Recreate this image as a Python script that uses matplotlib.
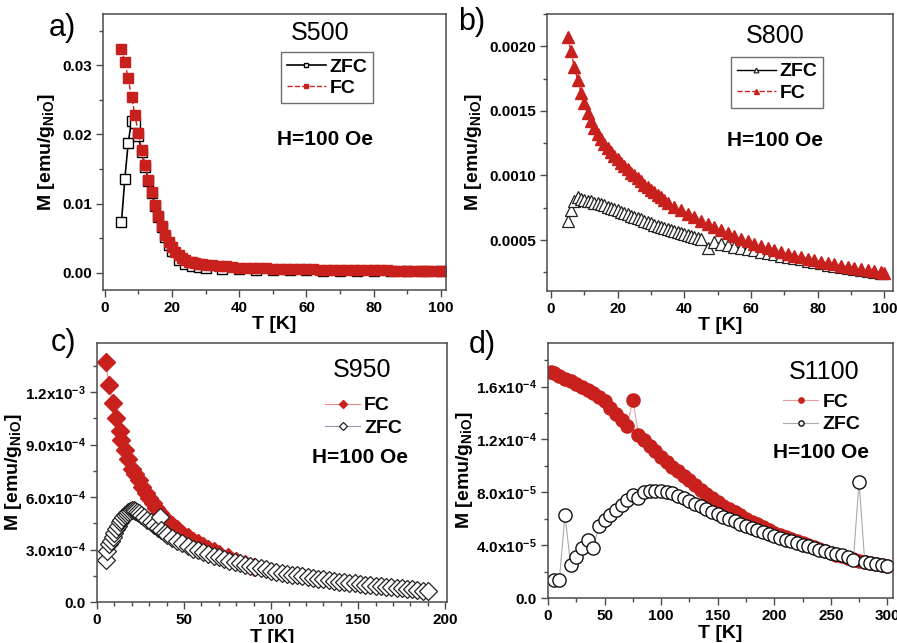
import matplotlib
matplotlib.use('Agg')
import matplotlib.pyplot as plt
from matplotlib.ticker import MultipleLocator, FixedLocator, FixedFormatter

plt.rcParams['font.family'] = ['Liberation Sans', 'DejaVu Sans']
plt.rcParams['mathtext.fontset'] = 'custom'
plt.rcParams['mathtext.rm'] = 'Liberation Sans'
plt.rcParams['mathtext.bf'] = 'Liberation Sans:bold'
plt.rcParams['mathtext.it'] = 'Liberation Sans:italic'
plt.rcParams['mathtext.default'] = 'bf'

RED = '#c8201d'
EDGE = '#4a4a4a'

# ---- a) S500 ----
a_zfc_T = [5, 6, 7, 8, 9, 10, 11, 12, 13, 14, 15, 16, 17, 18, 19, 20, 22, 24, 26, 28,
           30, 35, 40, 45, 50, 55, 60, 65, 70, 75, 80, 85, 90, 95, 100]
a_zfc_M = [0.0074, 0.0136, 0.0188, 0.0220, 0.0216, 0.0197, 0.0175, 0.0153, 0.0133, 0.0115,
           0.0097, 0.0080, 0.0066, 0.0052, 0.0040, 0.0031, 0.0019, 0.0013, 0.0010, 0.0008,
           0.0007, 0.0006, 0.0005, 0.00045, 0.0004, 0.0004, 0.00035, 0.0003, 0.0003, 0.0003,
           0.00025, 0.00025, 0.00025, 0.0002, 0.0002]
a_fc_T = [5, 6, 7, 8, 9, 10, 11, 12, 13, 14, 15, 16, 17, 18, 19, 20, 21, 22, 23, 24,
          25, 26, 27, 28, 29, 30, 32, 34, 36, 38, 40, 42, 44, 46, 48, 50, 52, 54, 56, 58,
          60, 62, 64, 66, 68, 70, 72, 74, 76, 78, 80, 82, 84, 86, 88, 90, 92, 94, 96, 98, 100]
a_fc_M = [0.0324, 0.0304, 0.0281, 0.0254, 0.0228, 0.0202, 0.0178, 0.0155, 0.0134, 0.0116,
          0.0098, 0.0082, 0.0068, 0.0055, 0.0045, 0.0037, 0.0030, 0.0025, 0.0021, 0.0018,
          0.0016, 0.0015, 0.0014, 0.0013, 0.0012, 0.00115, 0.00105, 0.00095, 0.0009, 0.0008,
          0.00075, 0.0007, 0.0007, 0.00065, 0.00065, 0.0006, 0.0006, 0.00055, 0.00055, 0.0005,
          0.0005, 0.0005, 0.00045, 0.00045, 0.00045, 0.0004, 0.0004, 0.0004, 0.0004, 0.00035,
          0.00035, 0.00035, 0.00035, 0.0003, 0.0003, 0.0003, 0.0003, 0.0003, 0.0003, 0.00025, 0.00025]

# ---- b) S800 ----
b_zfc_T = [5, 6, 7, 8, 9, 10, 11, 12, 13, 14, 15, 16, 17, 18, 19, 20, 21, 22, 23, 24,
           25, 26, 27, 28, 29, 30, 31, 32, 33, 34, 35, 36, 37, 38, 39, 40, 41, 42, 43, 44,
           45, 47, 49, 51, 53, 55, 57, 59, 61, 63, 65, 67, 69, 71, 73, 75,
           77, 79, 81, 83, 85, 87, 89, 91, 93, 95, 97, 99]
b_zfc_M = [0.00065, 0.00073, 0.00080, 0.00083, 0.00082, 0.00081, 0.00080, 0.00080, 0.00079, 0.000785,
           0.00078, 0.00077, 0.00076, 0.00075, 0.00074, 0.00073, 0.00072, 0.00071, 0.00070, 0.00069,
           0.00068, 0.00067, 0.00066, 0.00065, 0.00064, 0.00063, 0.00062, 0.00061, 0.00060, 0.000592,
           0.000585, 0.000577, 0.00057, 0.000562, 0.000555, 0.000547, 0.00054, 0.000532, 0.000525, 0.000517,
           0.00051, 0.00044, 0.000485, 0.00047, 0.00046, 0.00045,
           0.00044, 0.00043, 0.00042, 0.00041, 0.00040, 0.00039, 0.00038, 0.00037, 0.00036, 0.00035,
           0.00034, 0.00033, 0.00032, 0.00031, 0.00030, 0.000292, 0.000284, 0.000276, 0.000268, 0.00026,
           0.000253, 0.000246]
b_fc_T = [5, 6, 7, 8, 9, 10, 11, 12, 13, 14, 15, 16, 17, 18, 19, 20, 21, 22, 23, 24,
          25, 26, 27, 28, 29, 30, 31, 32, 33, 34, 35, 37, 39, 41, 43, 45, 47, 49, 51, 53,
          55, 57, 59, 61, 63, 65, 67, 69, 71, 73,
          75, 77, 79, 81, 83, 85, 87, 89, 91, 93, 95, 97, 99, 100]
b_fc_M = [0.00207, 0.00196, 0.00184, 0.00174, 0.00164, 0.00156, 0.00148, 0.00142, 0.00137, 0.00132,
          0.00128, 0.00124, 0.00121, 0.00118, 0.00115, 0.00113, 0.00110, 0.00107, 0.00105, 0.00102,
          0.00100, 0.00098, 0.00096, 0.00093, 0.00091, 0.00089, 0.00087, 0.00085, 0.00083, 0.00081,
          0.00079, 0.00076, 0.00073, 0.00070, 0.000675, 0.00065, 0.000625, 0.0006, 0.000575, 0.000552,
          0.00053, 0.00051, 0.00049, 0.00047, 0.000455, 0.00044, 0.000425, 0.00041, 0.000395, 0.00038,
          0.000368, 0.000356, 0.000344, 0.000333, 0.000322, 0.000312, 0.000302, 0.000293, 0.000284, 0.000276,
          0.000268, 0.00026, 0.000252, 0.000248]

# ---- c) S950 ----
c_fc_T = [5, 7, 9, 11, 13, 14, 16, 18, 20, 22, 24, 26, 28, 30, 32, 34, 36, 38, 40, 43,
          46, 49, 52, 55, 58, 61, 64, 67, 70, 75, 80, 85, 90]
c_fc_M = [1.37e-3, 1.24e-3, 1.14e-3, 1.05e-3, 0.975e-3, 0.925e-3, 0.87e-3, 0.82e-3, 0.76e-3, 0.73e-3,
          0.695e-3, 0.66e-3, 0.625e-3, 0.595e-3, 0.565e-3, 0.535e-3, 0.51e-3, 0.485e-3, 0.465e-3, 0.44e-3,
          0.415e-3, 0.39e-3, 0.37e-3, 0.35e-3, 0.335e-3, 0.32e-3, 0.305e-3, 0.29e-3, 0.275e-3, 0.255e-3,
          0.235e-3, 0.215e-3, 0.2e-3]
c_zfc_T = [5, 6, 7, 8, 9, 10, 11, 12, 13, 14, 15, 16, 17, 18, 19, 20, 21, 22, 23, 24,
           25, 27, 29, 31, 33, 35, 36, 37, 39, 40, 43, 46, 49, 52, 55, 58, 61, 64, 67, 70,
           73, 76, 79, 82, 85, 88, 91, 94, 97, 100, 103, 106, 109, 112, 115, 118, 121, 124, 127, 130,
           133, 136, 139, 142, 145, 148, 151, 154, 157, 160, 163, 166, 169, 172, 175, 178, 181, 184, 187, 190]
c_zfc_M = [0.24e-3, 0.29e-3, 0.33e-3, 0.35e-3, 0.37e-3, 0.395e-3, 0.415e-3, 0.435e-3, 0.455e-3, 0.47e-3,
           0.485e-3, 0.495e-3, 0.505e-3, 0.515e-3, 0.52e-3, 0.525e-3, 0.525e-3, 0.52e-3, 0.515e-3, 0.51e-3,
           0.50e-3, 0.485e-3, 0.47e-3, 0.455e-3, 0.44e-3, 0.425e-3, 0.485e-3, 0.41e-3, 0.395e-3, 0.385e-3,
           0.365e-3, 0.35e-3, 0.335e-3, 0.32e-3, 0.305e-3, 0.295e-3, 0.285e-3, 0.275e-3, 0.265e-3, 0.255e-3,
           0.245e-3, 0.237e-3, 0.229e-3, 0.221e-3, 0.213e-3, 0.206e-3, 0.199e-3, 0.192e-3, 0.186e-3, 0.18e-3,
           0.174e-3, 0.168e-3, 0.162e-3, 0.157e-3, 0.152e-3, 0.147e-3, 0.142e-3, 0.137e-3, 0.133e-3, 0.129e-3,
           0.125e-3, 0.121e-3, 0.117e-3, 0.113e-3, 0.109e-3, 0.106e-3, 0.103e-3, 0.1e-3, 0.097e-3, 0.094e-3,
           0.091e-3, 0.088e-3, 0.085e-3, 0.082e-3, 0.079e-3, 0.076e-3, 0.073e-3, 0.069e-3, 0.065e-3, 0.061e-3]

# ---- d) S1100 ----
d_fc_T = [3, 5, 10, 15, 20, 25, 30, 35, 40, 45, 50, 55, 60, 65, 70, 75, 80, 85, 90, 95,
          100, 105, 110, 115, 120, 125, 130, 135, 140, 145, 150, 155, 160, 165, 170, 175, 180, 185, 190, 195,
          200, 205, 210, 215, 220, 225, 230, 235, 240, 245, 250, 255, 260, 265, 270, 275, 280, 285, 290, 295, 300]
d_fc_M = [1.71e-4, 1.70e-4, 1.68e-4, 1.66e-4, 1.64e-4, 1.62e-4, 1.60e-4, 1.575e-4, 1.55e-4, 1.52e-4,
          1.49e-4, 1.44e-4, 1.39e-4, 1.345e-4, 1.30e-4, 1.50e-4, 1.235e-4, 1.195e-4, 1.15e-4, 1.11e-4,
          1.07e-4, 1.03e-4, 0.995e-4, 0.96e-4, 0.925e-4, 0.89e-4, 0.855e-4, 0.82e-4, 0.79e-4, 0.76e-4,
          0.73e-4, 0.70e-4, 0.675e-4, 0.65e-4, 0.625e-4, 0.60e-4, 0.578e-4, 0.557e-4, 0.535e-4, 0.515e-4,
          0.495e-4, 0.475e-4, 0.46e-4, 0.445e-4, 0.43e-4, 0.415e-4, 0.40e-4, 0.385e-4, 0.37e-4, 0.355e-4,
          0.34e-4, 0.328e-4, 0.316e-4, 0.304e-4, 0.292e-4, 0.28e-4, 0.27e-4, 0.262e-4, 0.254e-4, 0.247e-4, 0.24e-4]
d_zfc_T = [5, 10, 15, 20, 25, 30, 35, 40, 45, 50, 55, 60, 65, 70, 75, 80, 85, 90, 95, 100,
           105, 110, 115, 120, 125, 130, 135, 140, 145, 150, 155, 160, 165, 170, 175, 180, 185, 190, 195, 200,
           205, 210, 215, 220, 225, 230, 235, 240, 245, 250, 255, 260, 265, 270, 275, 280, 285, 290, 295, 300]
d_zfc_M = [1.39e-5, 1.34e-5, 6.28e-5, 2.53e-5, 3.11e-5, 3.75e-5, 4.38e-5, 3.75e-5, 5.47e-5, 5.90e-5,
           6.28e-5, 6.66e-5, 7.04e-5, 7.42e-5, 7.80e-5, 7.54e-5, 8.0e-5, 8.13e-5, 8.13e-5, 8.13e-5,
           8.05e-5, 7.92e-5, 7.75e-5, 7.54e-5, 7.34e-5, 7.14e-5, 6.94e-5, 6.73e-5, 6.53e-5, 6.33e-5,
           6.15e-5, 5.97e-5, 5.80e-5, 5.62e-5, 5.44e-5, 5.27e-5, 5.11e-5, 4.96e-5, 4.81e-5, 4.68e-5,
           4.53e-5, 4.41e-5, 4.28e-5, 4.15e-5, 4.03e-5, 3.90e-5, 3.77e-5, 3.67e-5, 3.57e-5, 3.44e-5,
           3.34e-5, 3.24e-5, 3.14e-5, 2.91e-5, 8.81e-5, 2.73e-5, 2.66e-5, 2.58e-5, 2.51e-5, 2.43e-5]

c_yticks = [0.0, 3.0e-4, 6.0e-4, 9.0e-4, 1.2e-3]
c_ylabels = ['0.0', r'3.0x10$^{-4}$', r'6.0x10$^{-4}$', r'9.0x10$^{-4}$', r'1.2x10$^{-3}$']
d_yticks = [0.0, 4.0e-5, 8.0e-5, 1.2e-4, 1.6e-4]
d_ylabels = ['0.0', r'4.0x10$^{-5}$', r'8.0x10$^{-5}$', r'1.2x10$^{-4}$', r'1.6x10$^{-4}$']

W, H = 897, 643
fig = plt.figure(figsize=(W / 100, H / 100), dpi=100)


def box(l, t, r, b):
    return [l / W, 1 - b / H, (r - l) / W, (b - t) / H]


def style(ax, xmaj, xmin, ymaj, ymin, ylpad=4):
    for s in ax.spines.values():
        s.set_color(EDGE)
        s.set_linewidth(1.1)
    ax.tick_params(which='both', direction='out', top=False, right=False,
                   color=EDGE, width=1.0, labelsize=11, pad=3)
    ax.tick_params(which='major', length=5)
    ax.tick_params(which='minor', length=3)
    ax.xaxis.set_major_locator(MultipleLocator(xmaj))
    ax.xaxis.set_minor_locator(MultipleLocator(xmin))
    if ymaj is not None:
        ax.yaxis.set_major_locator(MultipleLocator(ymaj))
    ax.yaxis.set_minor_locator(MultipleLocator(ymin))
    for lab in ax.get_xticklabels() + ax.get_yticklabels():
        lab.set_fontweight('bold')
    ax.set_xlabel('T [K]', fontsize=14, fontweight='bold', labelpad=1)
    ax.set_ylabel(r'M [emu/g$_{NiO}$]', fontsize=14, fontweight='bold', labelpad=ylpad)


def annotate(ax, name, nx, ny, hx, hy):
    ax.text(nx, ny, name, transform=ax.transAxes, fontsize=18, ha='center', va='center')
    ax.text(hx, hy, 'H=100 Oe', transform=ax.transAxes, fontsize=15, fontweight='bold',
            ha='center', va='center')


# a)
ax = fig.add_axes(box(103, 14, 446, 290))
ax.plot(a_zfc_T, a_zfc_M, color='black', lw=1.2, marker='s', ms=7, mfc='white',
        mec='black', mew=1.0, label='ZFC')
ax.plot(a_fc_T, a_fc_M, color=RED, lw=1.0, ls='--', marker='s', ms=7.5, mfc=RED,
        mec=RED, label='FC')
ax.set_xlim(-0.5, 101.5)
ax.set_ylim(-0.0025, 0.0374)
ax.yaxis.set_major_formatter(plt.FuncFormatter(lambda v, p: '%.2f' % v))
style(ax, 20, 10, 0.01, 0.005)
annotate(ax, 'S500', 0.633, 0.931, 0.647, 0.547)
leg = ax.legend(loc='upper left', bbox_to_anchor=(0.519, 0.862), borderaxespad=0,
                prop={'weight': 'bold', 'size': 14}, frameon=True, fancybox=False,
                handlelength=2.0, handletextpad=0.2, markerscale=0.45, borderpad=0.3,
                labelspacing=0.2)
leg.get_frame().set_edgecolor(EDGE)
leg.get_frame().set_linewidth(1.0)

# b)
ax = fig.add_axes(box(547, 14, 893, 291))
ax.plot(b_zfc_T, b_zfc_M, color='black', lw=1.0, marker='^', ms=8.5, mfc='white',
        mec='#222222', mew=0.9, label='ZFC')
ax.plot(b_fc_T, b_fc_M, color=RED, lw=1.0, ls='--', marker='^', ms=9, mfc=RED,
        mec=RED, label='FC')
ax.set_xlim(-1.2, 102.6)
ax.set_ylim(0.000106, 0.00225)
ax.yaxis.set_major_formatter(plt.FuncFormatter(lambda v, p: '%.4f' % v))
style(ax, 20, 10, 0.0005, 0.00025)
annotate(ax, 'S800', 0.659, 0.921, 0.659, 0.545)
leg = ax.legend(loc='upper left', bbox_to_anchor=(0.532, 0.845), borderaxespad=0,
                prop={'weight': 'bold', 'size': 14}, frameon=True, fancybox=False,
                handlelength=2.0, handletextpad=0.2, markerscale=0.4, borderpad=0.3,
                labelspacing=0.2)
leg.get_frame().set_edgecolor(EDGE)
leg.get_frame().set_linewidth(1.0)

# c)
ax = fig.add_axes(box(97, 343, 447, 602))
ax.plot(c_fc_T, c_fc_M, color='#e88a88', lw=0.8, marker='D', ms=9, mfc=RED,
        mec=RED, label='FC')
ax.plot(c_zfc_T, c_zfc_M, color='#9a98b8', lw=0.8, marker='D', ms=9, mfc='white',
        mec='#222222', mew=0.9, label='ZFC')
ax.set_xlim(0, 201)
ax.set_ylim(0, 1.48e-3)
style(ax, 50, 10, None, 1.5e-4, ylpad=1)
ax.yaxis.set_major_locator(FixedLocator(c_yticks))
ax.yaxis.set_major_formatter(FixedFormatter(c_ylabels))
annotate(ax, 'S950', 0.757, 0.896, 0.751, 0.556)
leg = ax.legend(loc='center left', bbox_to_anchor=(0.63, 0.715), borderaxespad=0,
                prop={'weight': 'bold', 'size': 14}, frameon=False,
                handlelength=1.8, handletextpad=0.2, markerscale=0.5, labelspacing=0.25)

# d)
ax = fig.add_axes(box(548, 343, 893, 598))
ax.plot(d_fc_T, d_fc_M, color='#e8a0a0', lw=0.8, marker='o', ms=9.5, mfc=RED,
        mec=RED, label='FC')
ax.plot(d_zfc_T, d_zfc_M, color='#aaaaaa', lw=0.8, marker='o', ms=9.5, mfc='white',
        mec='#111111', mew=1.0, label='ZFC')
ax.set_xlim(0, 305)
ax.set_ylim(0, 1.93e-4)
style(ax, 50, 25, None, 2e-5, ylpad=1)
ax.yaxis.set_major_locator(FixedLocator(d_yticks))
ax.yaxis.set_major_formatter(FixedFormatter(d_ylabels))
annotate(ax, 'S1100', 0.80, 0.886, 0.79, 0.569)
leg = ax.legend(loc='center left', bbox_to_anchor=(0.66, 0.724), borderaxespad=0,
                prop={'weight': 'bold', 'size': 14}, frameon=False,
                handlelength=1.8, handletextpad=0.2, markerscale=0.4, labelspacing=0.25)

for lab, x, y in [('a)', 62, 28), ('b)', 472, 22), ('c)', 64, 343), ('d)', 482, 345)]:
    fig.text(x / W, 1 - y / H, lab, fontsize=22, ha='center', va='center')

fig.savefig('out.png', dpi=100)
